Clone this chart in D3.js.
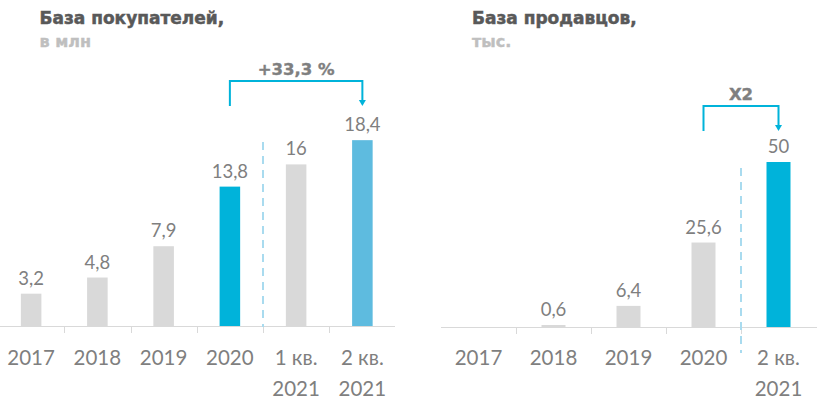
<!DOCTYPE html>
<html><head><meta charset="utf-8">
<script src="https://cdn.jsdelivr.net/npm/d3@7/dist/d3.min.js"></script>
<style>
html,body{margin:0;padding:0;background:#fff;}
svg{display:block;}
</style></head>
<body>
<svg id="chart" width="828" height="414"></svg>
<script>
// ---- data ----
const buyerCategories = ["2017", "2018", "2019", "2020", "1 кв.\n2021", "2 кв.\n2021"];
const buyerValues = [3.2, 4.8, 7.9, 13.8, 16, 18.4];
const sellerCategories = ["2017", "2018", "2019", "2020", "2 кв.\n2021"];
const sellerValues = [null, 0.6, 6.4, 25.6, 50];
const titles = ["База покупателей,", "База продавцов,"];
const subtitles = ["в млн", "тыс."];
const growthLabels = ["+33,3 %", "X2"];

// ---- styles ----
const GRAY = "#d9d9d9", BLUE = "#00b3da", LIGHTBLUE = "#5ebbdf", TXT = "#7f7f7f";
const svg = d3.select("#chart");
const fmt = v => String(v).replace(".", ",");

function panel(cfg) {
  const g = svg.append("g");
  const x = d3.scaleBand().domain(cfg.cats).range(cfg.xRange).padding(0);
  const y = d3.scaleLinear().domain(cfg.yDomain).range(cfg.yRange);
  const bw = x.bandwidth() * cfg.barFrac;
  const base = y(0);
  const data = cfg.cats.map((c, i) => ({c, v: cfg.vals[i], i}));

  // titles
  g.append("text").attr("x", cfg.titleX).attr("y", 24)
    .attr("font-family", "DejaVu Sans").attr("font-weight", "bold")
    .attr("font-size", 17).attr("fill", "#595959")
    .attr("stroke", "#595959").attr("stroke-width", 0.5).text(cfg.title);
  g.append("text").attr("x", cfg.titleX).attr("y", 47)
    .attr("font-family", "DejaVu Sans").attr("font-weight", "bold")
    .attr("font-size", 16).attr("fill", "#bfbfbf")
    .attr("stroke", "#bfbfbf").attr("stroke-width", 0.4).text(cfg.subtitle);

  // axis line
  g.append("line").attr("x1", cfg.axisX[0]).attr("x2", cfg.axisX[1])
    .attr("y1", base + 0.5).attr("y2", base + 0.5)
    .attr("stroke", GRAY).attr("stroke-width", 1);
  // ticks between categories
  cfg.cats.slice(1).forEach(c => {
    const tx = Math.round(x(c)) + 0.5;
    g.append("line").attr("x1", tx).attr("x2", tx)
      .attr("y1", base).attr("y2", base + 7)
      .attr("stroke", GRAY).attr("stroke-width", 1);
  });

  // dashed separator
  const sx = x(cfg.cats[cfg.sepIndex]);
  g.append("line").attr("x1", sx).attr("x2", sx)
    .attr("y1", cfg.sepY[0]).attr("y2", cfg.sepY[1])
    .attr("stroke", "#a9dbef").attr("stroke-width", 2)
    .attr("stroke-dasharray", "8,6");

  // bars
  g.selectAll("rect.bar").data(data.filter(d => d.v != null)).join("rect")
    .attr("class", "bar")
    .attr("x", d => x(d.c) + x.bandwidth() / 2 - bw / 2)
    .attr("width", bw)
    .attr("y", d => y(d.v))
    .attr("height", d => base - y(d.v))
    .attr("fill", d => cfg.colorOf(d.i));

  // value labels
  g.selectAll("text.val").data(data.filter(d => d.v != null)).join("text")
    .attr("class", "val")
    .attr("x", d => x(d.c) + x.bandwidth() / 2)
    .attr("y", d => y(d.v) - 9)
    .attr("text-anchor", "middle")
    .attr("font-family", "Lato").attr("font-size", 18.5).attr("fill", TXT)
    .text(d => fmt(d.v));

  // category labels
  data.forEach(d => {
    const t = g.append("text").attr("text-anchor", "middle")
      .attr("font-family", "Lato").attr("font-size", 20.5).attr("fill", TXT);
    d.c.split("\n").forEach((line, k) => {
      t.append("tspan").attr("x", x(d.c) + x.bandwidth() / 2)
        .attr("y", 365 + k * 30.5).text(line);
    });
  });

  // growth bracket
  const x1 = x(cfg.cats[cfg.from]) + x.bandwidth() / 2;
  const x2 = x(cfg.cats[cfg.to]) + x.bandwidth() / 2;
  const [top, bot] = cfg.bracketY;
  g.append("path")
    .attr("d", `M${x1},${bot} V${top} H${x2} V${bot - 5}`)
    .attr("fill", "none").attr("stroke", BLUE).attr("stroke-width", 2);
  g.append("path")
    .attr("d", `M${x2 - 3.5},${bot - 6} L${x2 + 3.5},${bot - 6} L${x2},${bot} Z`)
    .attr("fill", BLUE);
  g.append("text").attr("x", (x1 + x2) / 2).attr("y", top - 6)
    .attr("text-anchor", "middle")
    .attr("font-family", "DejaVu Sans").attr("font-weight", "bold")
    .attr("font-size", 16.5).attr("fill", TXT)
    .attr("stroke", TXT).attr("stroke-width", 0.4).text(cfg.growth);
}

panel({
  cats: buyerCategories, vals: buyerValues,
  xRange: [-2, 395.5], axisX: [0, 395],
  yDomain: [0, 20], yRange: [326, 124], barFrac: 0.31,
  title: titles[0], subtitle: subtitles[0], titleX: 39.5,
  sepIndex: 4, sepY: [142, 327],
  colorOf: i => i === 3 ? BLUE : (i === 5 ? LIGHTBLUE : GRAY),
  from: 3, to: 5, bracketY: [81, 106], growth: growthLabels[0]
});

panel({
  cats: sellerCategories, vals: sellerValues,
  xRange: [441, 816], axisX: [441, 817],
  yDomain: [0, 50], yRange: [327, 162], barFrac: 0.32,
  title: titles[1], subtitle: subtitles[1], titleX: 472,
  sepIndex: 4, sepY: [168, 353],
  colorOf: i => i === 4 ? BLUE : GRAY,
  from: 3, to: 4, bracketY: [106, 131], growth: growthLabels[1]
});
</script>
</body></html>
